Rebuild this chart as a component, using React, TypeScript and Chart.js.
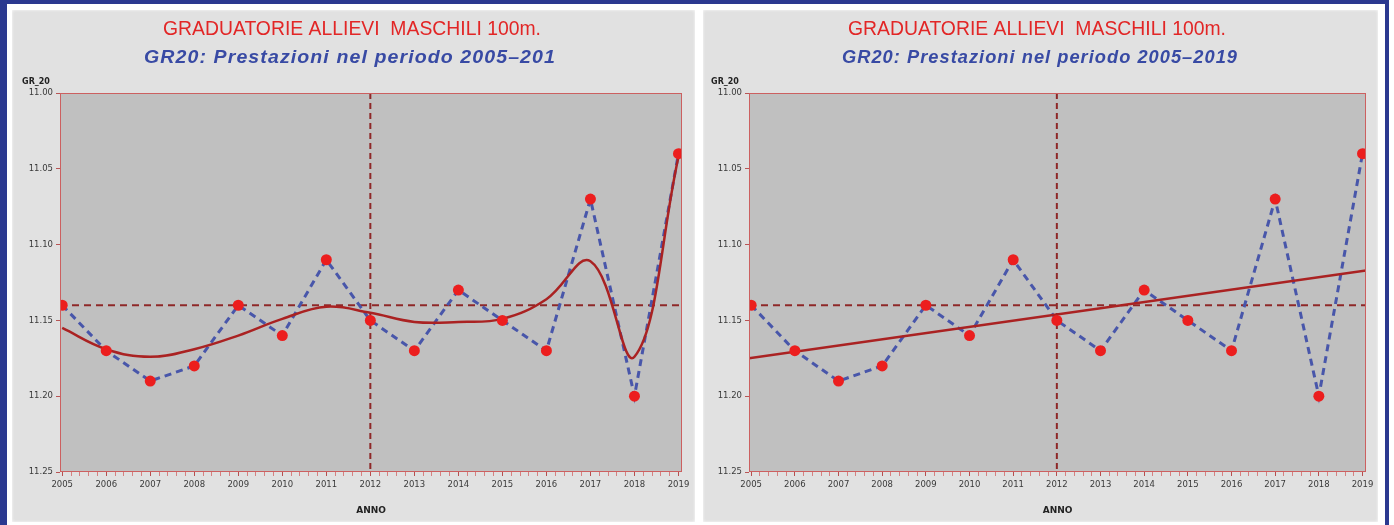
import React, { useEffect, useRef } from "react";
import { Chart, registerables } from "chart.js";

Chart.register(...registerables);

// ---------- data ----------
const YEARS = [2005, 2006, 2007, 2008, 2009, 2010, 2011, 2012, 2013, 2014, 2015, 2016, 2017, 2018, 2019];
const GR20 = [11.14, 11.17, 11.19, 11.18, 11.14, 11.16, 11.11, 11.15, 11.17, 11.13, 11.15, 11.17, 11.07, 11.2, 11.04];
// smoothed curve (left panel), read at each year
const SMOOTH = [11.155, 11.169, 11.174, 11.169, 11.16, 11.149, 11.141, 11.145, 11.151, 11.151, 11.149, 11.136, 11.111, 11.174, 11.042];
// linear trend (right panel), read at the two edges of the plot
const TREND_X = [2004.95, 2019.08];
const TREND_Y = [11.175, 11.117];
const REF_VALUE = 11.14;
const REF_YEAR = 2012;
const Y_TICKS = [11.0, 11.05, 11.1, 11.15, 11.2, 11.25];
const X_RANGE = [2004.95, 2019.08];
const Y_RANGE = [11.0, 11.25];

const TITLE = "GRADUATORIE ALLIEVI  MASCHILI 100m.";
const SUBTITLE_LEFT = "GR20: Prestazioni nel periodo 2005\u2013201";
const SUBTITLE_RIGHT = "GR20: Prestazioni nel periodo 2005\u20132019";
const Y_LABEL = "GR_20";
const X_LABEL = "ANNO";

// ---------- styling ----------
const RED_TITLE = "rgb(226,38,38)";
const BLUE_TITLE = "rgb(56,74,164)";
const PLOT_BG = "#c0c0c0";
const PANEL_BG = "#e1e1e1";
const PLOT_BORDER = "rgb(204,96,96)";
const DATA_LINE = "rgb(72,86,170)";
const MARKER = "rgb(236,30,30)";
const FIT_LINE = "rgb(170,34,34)";
const REF_LINE = "rgb(142,40,40)";
const TICK_FONT = "DejaVu Sans";

type PanelKind = "smooth" | "trend";

interface PanelSpec {
  kind: PanelKind;
  subtitle: string;
  width: number;
  height: number;
  yAxisWidth: number;
  padRight: number;
  titleCx: number;
  titleW: number;
  subCx: number;
  subW: number;
}

// draw text horizontally fitted to a target width
function drawFitted(
  ctx: CanvasRenderingContext2D,
  text: string,
  cx: number,
  cy: number,
  font: string,
  color: string,
  target: number,
  spacing: number
) {
  ctx.save();
  ctx.font = font;
  ctx.fillStyle = color;
  ctx.textAlign = "center";
  ctx.textBaseline = "middle";
  (ctx as any).letterSpacing = spacing + "px";
  const w = ctx.measureText(text).width;
  const sx = target / w;
  ctx.translate(cx, cy);
  ctx.scale(sx, 1);
  ctx.fillText(text, 0, 0);
  ctx.restore();
}

function makeConfig(spec: PanelSpec): any {
  const points = YEARS.map((x, i) => ({ x, y: GR20[i] }));
  const fit =
    spec.kind === "smooth"
      ? YEARS.map((x, i) => ({ x, y: SMOOTH[i] }))
      : TREND_X.map((x, i) => ({ x, y: TREND_Y[i] }));

  const decor = {
    id: "decor",
    beforeDraw(chart: any) {
      const { ctx, chartArea: a } = chart;
      ctx.save();
      ctx.fillStyle = PLOT_BG;
      ctx.fillRect(a.left, a.top, a.right - a.left, a.bottom - a.top);
      ctx.restore();
    },
    afterDraw(chart: any) {
      const { ctx, chartArea: a } = chart;
      ctx.save();
      ctx.strokeStyle = PLOT_BORDER;
      ctx.lineWidth = 1;
      ctx.strokeRect(a.left + 0.5, a.top + 0.5, a.right - a.left - 1, a.bottom - a.top - 1);
      ctx.restore();

      drawFitted(ctx, TITLE, spec.titleCx, 19, "20px 'Liberation Sans'", RED_TITLE, spec.titleW, 0);
      drawFitted(ctx, spec.subtitle, spec.subCx, 48, "italic bold 18px 'Liberation Sans'", BLUE_TITLE, spec.subW, 1);

      ctx.save();
      ctx.font = "bold 8px 'DejaVu Sans'";
      ctx.fillStyle = "#222";
      ctx.textAlign = "center";
      ctx.textBaseline = "middle";
      ctx.fillText(Y_LABEL, a.left - 24, a.top - 11);
      ctx.restore();
    },
  };

  return {
    type: "line",
    data: {
      datasets: [
        {
          label: "points",
          data: points,
          showLine: false,
          pointRadius: 5.5,
          pointBackgroundColor: MARKER,
          pointBorderWidth: 0,
          order: 0,
        },
        {
          label: "fit",
          data: fit,
          borderColor: FIT_LINE,
          borderWidth: 2.5,
          pointRadius: 0,
          tension: spec.kind === "smooth" ? 0.4 : 0,
          order: 1,
        },
        {
          label: "GR20",
          data: points,
          borderColor: DATA_LINE,
          borderWidth: 3,
          borderDash: [7, 5],
          pointRadius: 0,
          tension: 0,
          order: 2,
        },
        {
          label: "ref-h",
          data: X_RANGE.map((x) => ({ x, y: REF_VALUE })),
          borderColor: REF_LINE,
          borderWidth: 2,
          borderDash: [7, 5],
          pointRadius: 0,
          order: 3,
        },
        {
          label: "ref-v",
          data: Y_RANGE.map((y) => ({ x: REF_YEAR, y })),
          borderColor: REF_LINE,
          borderWidth: 2,
          borderDash: [6, 4],
          pointRadius: 0,
          order: 3,
        },
      ],
    },
    options: {
      responsive: false,
      animation: false,
      events: [],
      layout: { padding: { top: 83, right: spec.padRight, left: 0, bottom: 0 } },
      plugins: {
        legend: { display: false },
        tooltip: { enabled: false },
        title: { display: false },
      },
      scales: {
        x: {
          type: "linear",
          min: X_RANGE[0],
          max: X_RANGE[1],
          afterBuildTicks(scale: any) {
            const t: any[] = [];
            YEARS.forEach((yr, i) => {
              t.push({ value: yr, major: true });
              if (i < YEARS.length - 1) {
                for (let k = 1; k < 5; k++) t.push({ value: yr + k / 5 });
              }
            });
            scale.ticks = t;
          },
          afterFit(scale: any) {
            scale.height = 50;
          },
          ticks: {
            autoSkip: false,
            maxRotation: 0,
            padding: 4,
            color: "#3a3a3a",
            font: { family: TICK_FONT, size: 8.5 },
            callback: (v: number) => {
              const r = Math.round(v);
              return Math.abs(v - r) < 1e-6 && YEARS.includes(r) ? String(r) : "";
            },
          },
          grid: {
            drawOnChartArea: false,
            drawTicks: true,
            tickLength: 4,
            color: (c: any) =>
              c.tick && Math.abs(c.tick.value - Math.round(c.tick.value)) < 1e-6
                ? "rgba(180,70,70,0.95)"
                : "rgba(210,110,110,0.85)",
          },
          border: { display: false },
          title: {
            display: true,
            text: X_LABEL,
            color: "#222",
            font: { family: TICK_FONT, size: 9, weight: "bold" },
            padding: { top: 0, bottom: 6 },
          },
        },
        y: {
          type: "linear",
          reverse: true,
          min: Y_RANGE[0],
          max: Y_RANGE[1],
          afterBuildTicks(scale: any) {
            scale.ticks = Y_TICKS.map((value) => ({ value }));
          },
          afterFit(scale: any) {
            scale.width = spec.yAxisWidth;
          },
          ticks: {
            padding: 3,
            color: "#3a3a3a",
            font: { family: TICK_FONT, size: 8.5 },
            callback: (v: number) => v.toFixed(2),
          },
          grid: {
            drawOnChartArea: false,
            drawTicks: true,
            tickLength: 4,
            color: "rgba(180,70,70,0.9)",
          },
          border: { display: false },
        },
      },
    },
    plugins: [decor],
  };
}

function Panel({ spec, left, top }: { spec: PanelSpec; left: number; top: number }) {
  const ref = useRef<HTMLCanvasElement | null>(null);
  useEffect(() => {
    if (!ref.current) return;
    const chart = new Chart(ref.current, makeConfig(spec));
    return () => chart.destroy();
  }, [spec]);
  return (
    <div
      style={{
        position: "absolute",
        left,
        top,
        width: spec.width,
        height: spec.height,
        background: PANEL_BG,
        boxShadow: "inset 0 0 3px rgba(255,255,255,0.9)",
      }}
    >
      <canvas
        ref={ref}
        width={spec.width}
        height={spec.height}
        style={{ display: "block", width: spec.width, height: spec.height }}
      />
    </div>
  );
}

const LEFT_SPEC: PanelSpec = {
  kind: "smooth",
  subtitle: SUBTITLE_LEFT,
  width: 683,
  height: 512,
  yAxisWidth: 48,
  padRight: 13,
  titleCx: 340,
  titleW: 378,
  subCx: 338,
  subW: 412,
};

const RIGHT_SPEC: PanelSpec = {
  kind: "trend",
  subtitle: SUBTITLE_RIGHT,
  width: 675,
  height: 512,
  yAxisWidth: 46,
  padRight: 12,
  titleCx: 334,
  titleW: 378,
  subCx: 337,
  subW: 396,
};

export default function App() {
  return (
    <div
      style={{
        position: "fixed",
        left: 0,
        top: 0,
        width: 1394,
        height: 525,
        background: "#fff",
        overflow: "hidden",
      }}
    >
      <div
        style={{
          position: "absolute",
          left: 0,
          top: 0,
          width: 1378,
          height: 600,
          borderLeft: "7px solid #2b3990",
          borderTop: "4px solid #2b3990",
          borderRight: "4px solid #2b3990",
          background: "#fff",
        }}
      />
      <Panel spec={LEFT_SPEC} left={12} top={10} />
      <Panel spec={RIGHT_SPEC} left={703} top={10} />
    </div>
  );
}
